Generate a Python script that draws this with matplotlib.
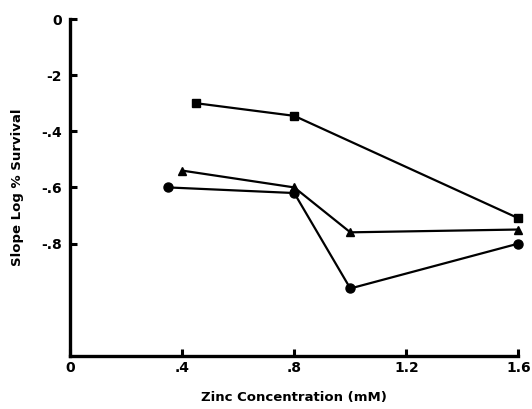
import matplotlib.pyplot as plt

# Zinc concentration (mM) vs slope of log % survival
sq_x = [0.45, 0.80, 1.60]
sq_y = [-0.30, -0.345, -0.71]

tri_x = [0.40, 0.80, 1.00, 1.60]
tri_y = [-0.54, -0.60, -0.76, -0.75]

circ_x = [0.35, 0.80, 1.00, 1.60]
circ_y = [-0.60, -0.62, -0.96, -0.80]

xticks = [0, 0.4, 0.8, 1.2, 1.6]
xtick_labels = ["0", ".4", ".8", "1.2", "1.6"]
yticks = [0, -0.2, -0.4, -0.6, -0.8]
ytick_labels = ["0", "-2", "-.4", "-.6", "-.8"]

fig = plt.figure(figsize=(5.32, 4.09), dpi=100)
ax = fig.add_axes([0.1316, 0.13, 0.843, 0.8235])

kw = dict(color="black", lw=1.6, clip_on=False)
ax.plot(sq_x, sq_y, marker="s", ms=6, **kw)
ax.plot(tri_x, tri_y, marker="^", ms=6, **kw)
ax.plot(circ_x, circ_y, marker="o", ms=6.5, **kw)

ax.set_xlim(0, 1.6)
ax.set_ylim(-1.2, 0)
ax.set_xticks(xticks)
ax.set_xticklabels(xtick_labels)
ax.set_yticks(yticks)
ax.set_yticklabels(ytick_labels)

for side in ["top", "right"]:
    ax.spines[side].set_visible(False)
for side in ["left", "bottom"]:
    ax.spines[side].set_linewidth(2.4)

ax.tick_params(direction="in", length=5, width=2.2, labelsize=10)
ax.tick_params(axis="x", pad=4)
ax.tick_params(axis="y", pad=6)
for lab in ax.get_xticklabels() + ax.get_yticklabels():
    lab.set_fontweight("bold")

ax.set_xlabel("Zinc Concentration (mM)", fontsize=9.5, fontweight="bold", labelpad=11)
ax.set_ylabel("Slope Log % Survival", fontsize=9.5, fontweight="bold", labelpad=12)

fig.savefig("out.png", dpi=100)
